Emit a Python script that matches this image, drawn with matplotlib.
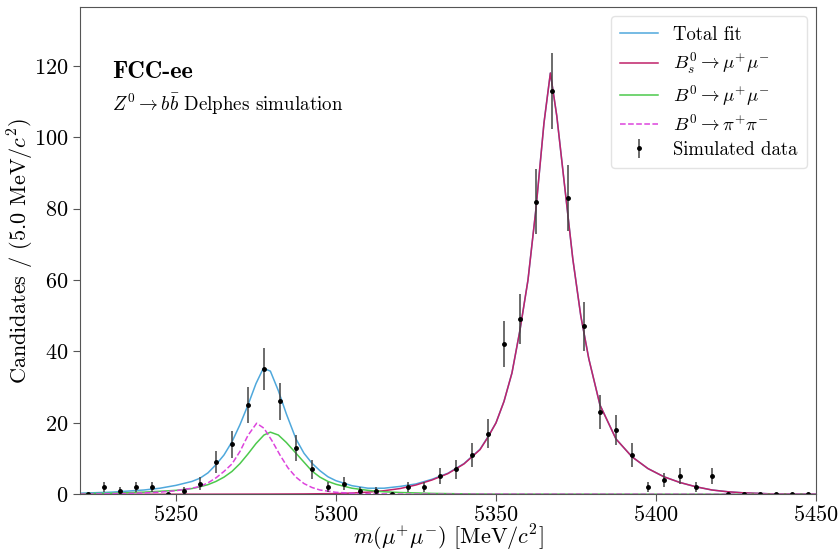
import numpy as np
import matplotlib
matplotlib.use('Agg')
import matplotlib.pyplot as plt

plt.rcParams['font.family'] = 'serif'
plt.rcParams['font.serif'] = ['cmr10']
plt.rcParams['mathtext.fontset'] = 'cm'
plt.rcParams['axes.formatter.use_mathtext'] = True

# 数据: 5 MeV 分箱的候选数
bin_centers = np.arange(5222.5, 5450, 5.0)
counts = [0, 2, 1, 2, 2, 0, 1, 3, 9, 14, 25, 35, 26, 13, 7, 2, 3, 1, 1, 0,
          2, 2, 5, 7, 11, 17, 42, 49, 82, 113, 83, 47, 23, 18, 11, 2, 4, 5, 2, 5,
          0, 0, 0, 0, 0, 0]

# 拟合曲线
total_x = [5220, 5230, 5240, 5245, 5250, 5255, 5257.5, 5260, 5262.5, 5265, 5267.5,
           5270, 5272.5, 5275, 5277.3, 5279.5, 5282, 5284.5, 5287.5, 5290, 5292.5,
           5295, 5297.5, 5300, 5305, 5310, 5315, 5320, 5325, 5330, 5335, 5340, 5345,
           5347.5, 5350, 5352.5, 5355, 5357.5, 5360, 5362.5, 5365, 5367, 5369,
           5371.5, 5374, 5376.5, 5379, 5382.5, 5387.5, 5392.5, 5397.5, 5402.5,
           5407.5, 5412.5, 5417.5, 5422.5, 5427.5, 5435, 5450]
total_y = [0.3, 0.6, 1.2, 1.7, 2.5, 3.6, 4.5, 6.0, 8.3, 11.0, 14.7,
           19.5, 25.0, 31.0, 35.3, 34.5, 29.0, 22.5, 15.5, 11.5, 8.7,
           6.6, 4.9, 3.8, 2.4, 1.7, 1.7, 2.2, 2.9, 4.2, 5.9, 8.6, 12.6,
           16.1, 20.0, 26.0, 34.0, 46.0, 60.0, 80.0, 104.0, 118.0, 106.0,
           86.0, 66.0, 50.0, 38.0, 25.0, 15.5, 10.5, 7.2, 4.9,
           3.3, 2.1, 1.2, 0.7, 0.4, 0.15, 0.03]

bs_x = [5220, 5260, 5280, 5290, 5300, 5305, 5310, 5315, 5320, 5325, 5330, 5335,
        5340, 5345, 5347.5, 5350, 5352.5, 5355, 5357.5, 5360, 5362.5, 5365, 5367,
        5369, 5371.5, 5374, 5376.5, 5379, 5382.5, 5387.5, 5392.5, 5397.5, 5402.5,
        5407.5, 5412.5, 5417.5, 5422.5, 5427.5, 5435, 5450]
bs_y = [0.0, 0.02, 0.06, 0.1, 0.2, 0.35, 0.6, 1.0, 1.6, 2.6, 4.0, 5.8,
        8.5, 12.5, 16.0, 20.0, 26.0, 34.0, 46.0, 60.0, 80.0, 104.0, 118.0,
        106.0, 86.0, 66.0, 50.0, 38.0, 25.0, 15.5, 10.5, 7.2, 4.9,
        3.3, 2.1, 1.2, 0.7, 0.4, 0.15, 0.03]

b0mm_x = [5220, 5230, 5240, 5250, 5255, 5257.5, 5260, 5262.5, 5265, 5267.5, 5270,
          5272.5, 5275, 5277.5, 5279.5, 5282, 5284.5, 5287.5, 5290, 5292.5, 5295,
          5297.5, 5300, 5305, 5310, 5315, 5320, 5330, 5340, 5350, 5450]
b0mm_y = [0.15, 0.3, 0.6, 1.1, 1.6, 2.1, 2.7, 3.6, 4.8, 6.4, 8.6,
          11.3, 14.2, 16.6, 17.4, 16.6, 14.5, 11.5, 9.0, 6.5, 4.8,
          3.6, 2.8, 1.7, 1.1, 0.7, 0.5, 0.25, 0.12, 0.05, 0.0]

b0pp_x = [5220, 5235, 5245, 5250, 5255, 5257.5, 5260, 5262.5, 5265, 5267.5, 5270,
          5272.5, 5275.2, 5277.5, 5280, 5282.5, 5285, 5287.5, 5290, 5292.5, 5295,
          5300, 5305, 5310, 5320, 5450]
b0pp_y = [0.05, 0.2, 0.6, 1.0, 1.7, 2.2, 3.2, 4.6, 6.4, 8.5, 12.0,
          16.5, 19.9, 18.5, 15.0, 11.0, 7.4, 4.8, 3.0, 1.9, 1.2,
          0.55, 0.3, 0.15, 0.05, 0.0]

fig = plt.figure(figsize=(8.4, 5.55), dpi=100)
ax = fig.add_axes([0.0952, 0.1094, 0.8762, 0.878])

ax.plot(total_x, total_y, color='#4fa8dc', lw=1.1, label='Total fit')
ax.plot(bs_x, bs_y, color='#c0226a', lw=1.1, label=r'$B_s^0\to\mu^{+}\mu^{-}$')
ax.plot(b0mm_x, b0mm_y, color='#4cc94c', lw=1.1, label=r'$B^0\to\mu^{+}\mu^{-}$')
ax.plot(b0pp_x, b0pp_y, color='#dd44dd', lw=1.1, ls='--', label=r'$B^0\to\pi^{+}\pi^{-}$')

counts = np.array(counts)
ax.errorbar(bin_centers, counts, yerr=np.sqrt(counts), fmt='o', ms=2.5,
            color='black', ecolor='#444444', elinewidth=1.1, capsize=0,
            label='Simulated data')

ax.set_xlim(5220, 5450)
ax.set_ylim(0, 136.5)
ax.set_xticks([5250, 5300, 5350, 5400, 5450])
ax.set_yticks([0, 20, 40, 60, 80, 100, 120])
ax.tick_params(labelsize=16, direction='out', length=5, color='#555555')
ax.tick_params(axis='x', pad=2.5)
for s in ax.spines.values():
    s.set_color('#555555')

ax.set_xlabel(r'$m(\mu^{+}\mu^{-})$ [MeV/$c^2$]', fontsize=16, labelpad=-1)
ax.set_ylabel(r'Candidates / (5.0 MeV/$c^2$)', fontsize=16, labelpad=-2)

ax.text(0.0435, 0.854, 'FCC-ee', transform=ax.transAxes, fontsize=17.5,
        family='cmb10', va='baseline')
ax.text(0.0435, 0.787, r'$Z^0\to b\bar{b}$ Delphes simulation', transform=ax.transAxes,
        fontsize=13.7, va='baseline')

leg = ax.legend(loc='upper right', fontsize=13.5, frameon=True, handlelength=2.0,
                borderpad=0.5, labelspacing=0.35)
leg.get_frame().set_edgecolor('#dddddd')

fig.savefig('out.png', dpi=100)
